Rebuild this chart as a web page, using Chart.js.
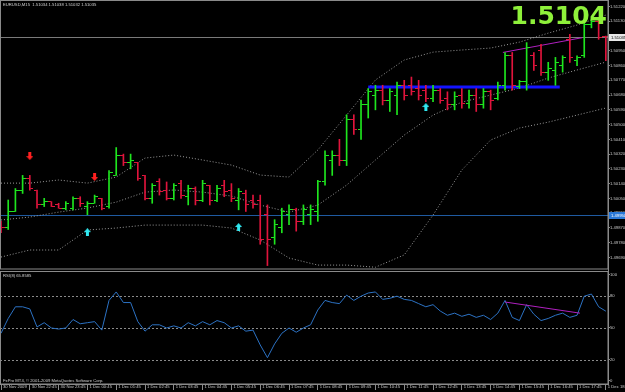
<!DOCTYPE html>
<html>
<head>
<meta charset="utf-8">
<script src="https://cdn.jsdelivr.net/npm/chart.js@4"></script>
<style>
html, body { margin: 0; padding: 0; background: #000; overflow: hidden; }
</style>
</head>
<body>
<canvas id="chart" width="625" height="392"></canvas>
<script>
// ---- data (EURUSD M15, 30 Nov 21:45 .. 1 Dec 18:45) ----
const timeLabels = ['30 Nov 2009', '30 Nov 22:45', '30 Nov 23:45', '1 Dec 00:45', '1 Dec 01:45', '1 Dec 02:45',
  '1 Dec 03:45', '1 Dec 04:45', '1 Dec 05:45', '1 Dec 06:45', '1 Dec 07:45', '1 Dec 08:45', '1 Dec 09:45',
  '1 Dec 10:45', '1 Dec 11:45', '1 Dec 12:45', '1 Dec 13:45', '1 Dec 14:45', '1 Dec 15:45', '1 Dec 16:45',
  '1 Dec 17:45', '1 Dec 18:45'];
const barsPerLabel = 4;

const opens = [1.4990, 1.4987, 1.4997, 1.5010, 1.5017, 1.5010, 1.5001, 1.5003, 1.5001, 1.4999, 1.4999, 1.5005,
  1.5000, 1.5002, 1.5005, 1.5000, 1.5019, 1.5031, 1.5027, 1.5027, 1.5019, 1.5005,
  1.5015, 1.5010, 1.5005, 1.5014, 1.5006, 1.5011, 1.5004, 1.5013, 1.5004, 1.5013, 1.5010, 1.5004, 1.5008, 1.5004,
  1.5004, 1.4995, 1.4981, 1.4987, 1.4995, 1.4998, 1.4991, 1.4995, 1.4997, 1.5015, 1.5028, 1.5031, 1.5028, 1.5053,
  1.5047, 1.5062, 1.5068, 1.5071, 1.5065, 1.5068, 1.5074, 1.5074, 1.5072, 1.5071, 1.5066, 1.5071, 1.5066, 1.5062,
  1.5068, 1.5063, 1.5068, 1.5062, 1.5070, 1.5066, 1.5074, 1.5092, 1.5073, 1.5076, 1.5092, 1.5095, 1.5082, 1.5083,
  1.5086, 1.5102, 1.5089, 1.5092, 1.5111, 1.5113, 1.5104];
const highs = [1.4991, 1.5004, 1.5011, 1.5019, 1.5019, 1.5010, 1.5005, 1.5003, 1.5002, 1.5003, 1.5006, 1.5006,
  1.5003, 1.5007, 1.5005, 1.5022, 1.5036, 1.5032, 1.5032, 1.5027, 1.5019, 1.5014,
  1.5017, 1.5015, 1.5014, 1.5016, 1.5013, 1.5012, 1.5016, 1.5013, 1.5013, 1.5016, 1.5014, 1.5011, 1.5010, 1.5007,
  1.5007, 1.5001, 1.4992, 1.4999, 1.5001, 1.4999, 1.5001, 1.5001, 1.5016, 1.5034, 1.5034, 1.5041, 1.5056, 1.5056,
  1.5065, 1.5072, 1.5074, 1.5074, 1.5072, 1.5076, 1.5077, 1.5079, 1.5077, 1.5074, 1.5074, 1.5072, 1.5070, 1.5070,
  1.5072, 1.5071, 1.5072, 1.5072, 1.5071, 1.5076, 1.5094, 1.5094, 1.5077, 1.5100, 1.5094, 1.5099, 1.5088, 1.5091,
  1.5092, 1.5105, 1.5092, 1.5113, 1.5114, 1.5114, 1.5104];
const lows = [1.4984, 1.4986, 1.4997, 1.5008, 1.5010, 1.4999, 1.5000, 1.5000, 1.4999, 1.4998, 1.4998, 1.5000,
  1.4995, 1.5002, 1.4998, 1.4999, 1.5019, 1.5025, 1.5023, 1.5016, 1.5004, 1.5002,
  1.5007, 1.5004, 1.5004, 1.5005, 1.5001, 1.5001, 1.5003, 1.5001, 1.5003, 1.5006, 1.5003, 1.4998, 1.4997, 1.4999,
  1.4977, 1.4964, 1.4977, 1.4984, 1.4989, 1.4985, 1.4989, 1.4989, 1.4991, 1.5013, 1.5019, 1.5025, 1.5025, 1.5044,
  1.5041, 1.5054, 1.5059, 1.5062, 1.5058, 1.5056, 1.5065, 1.5068, 1.5065, 1.5064, 1.5064, 1.5063, 1.5059, 1.5059,
  1.5060, 1.5060, 1.5058, 1.5060, 1.5059, 1.5065, 1.5071, 1.5071, 1.5072, 1.5071, 1.5083, 1.5080, 1.5077, 1.5074,
  1.5082, 1.5088, 1.5086, 1.5091, 1.5109, 1.5102, 1.5089];
const closes = [1.4987, 1.4997, 1.5010, 1.5017, 1.5011, 1.5001, 1.5003, 1.5000, 1.4999, 1.5002, 1.5005, 1.5002,
  1.5002, 1.5006, 1.4999, 1.5021, 1.5031, 1.5027, 1.5028, 1.5017, 1.5005, 1.5013,
  1.5009, 1.5005, 1.5013, 1.5007, 1.5011, 1.5004, 1.5014, 1.5004, 1.5011, 1.5009, 1.5005, 1.5009, 1.5001, 1.5001,
  1.4980, 1.4980, 1.4989, 1.4997, 1.4998, 1.4991, 1.4998, 1.4998, 1.5015, 1.5031, 1.5031, 1.5028, 1.5053, 1.5047,
  1.5062, 1.5070, 1.5071, 1.5065, 1.5070, 1.5074, 1.5068, 1.5070, 1.5068, 1.5066, 1.5071, 1.5065, 1.5062, 1.5067,
  1.5063, 1.5068, 1.5062, 1.5070, 1.5065, 1.5074, 1.5092, 1.5074, 1.5076, 1.5097, 1.5086, 1.5082, 1.5084, 1.5088,
  1.5091, 1.5091, 1.5091, 1.5111, 1.5113, 1.5103, 1.51035];

// Bollinger bands read every 4 bars
const upperBand = [1.50143, 1.50143, 1.50162, 1.50143, 1.50180, 1.50296, 1.50314, 1.50284, 1.50253, 1.50192, 1.50180,
  1.50345, 1.50558, 1.50772, 1.50894, 1.50942, 1.50955, 1.50967, 1.51003, 1.51058, 1.51107, 1.51168];
const middleBand = [1.49918, 1.49936, 1.49966, 1.49991, 1.50027, 1.50088, 1.50101, 1.50088, 1.50064, 1.50009, 1.49966,
  1.50009, 1.50131, 1.50284, 1.50436, 1.50558, 1.50637, 1.50680, 1.50723, 1.50784, 1.50833, 1.50881];
const lowerBand = [1.49692, 1.49735, 1.49735, 1.49857, 1.49869, 1.49887, 1.49887, 1.49887, 1.49869, 1.49796, 1.49686,
  1.49643, 1.49643, 1.49630, 1.49705, 1.49948, 1.50223, 1.50406, 1.50479, 1.50515, 1.50558, 1.50601];

const rsi = [45, 59, 70, 70, 68, 51, 55, 50, 49, 50, 58, 54, 55, 56, 48, 76, 84, 74, 74, 56, 47, 53,
  53, 50, 52, 50, 55, 52, 56, 53, 57, 55, 50, 52, 47, 48, 34, 22, 35, 45, 50, 46, 50, 53, 67, 76, 74, 73, 81, 76,
  80, 83, 84, 77, 78, 80, 77, 76, 73, 70, 72, 66, 62, 64, 61, 63, 60, 62, 58, 64, 76, 60, 57, 72, 63, 57, 59, 62,
  64, 60, 62, 80, 82, 70, 65.86];

const downArrowBars = [4, 13];
const downArrowPrices = [1.50308, 1.50180];
const upArrowBars = [12, 33, 59];
const upArrowPrices = [1.49844, 1.49875, 1.50607];

const priceTrend = [{ x: 69.7, y: 1.5094 }, { x: 80.7, y: 1.5103 }];
const resistanceSeg = [{ x: 51, y: 1.50729 }, { x: 77.6, y: 1.50729 }];
const rsiTrend = [{ x: 70, y: 74.5 }, { x: 80.4, y: 64 }];

const currentPrice = 1.51035;
const hLinePrice = 1.4995;
const bigLabel = '1.5104';

const priceTicks = [1.51220, 1.51130, 1.51040, 1.50950, 1.50860, 1.50770, 1.50680, 1.50590, 1.50500, 1.50410,
  1.50320, 1.50230, 1.50140, 1.50050, 1.49960, 1.49870, 1.49780, 1.49690];
const rsiTicks = [0, 20, 50, 80, 100];
const rsiLevels = [20, 50, 80];

// ---- helpers ----
const upColor = '#1ee61e', downColor = '#e0143c';
const isUp = i => closes[i] >= opens[i];

function tickImage(side, color) {
  const c = document.createElement('canvas');
  c.width = 7; c.height = 1;
  const g = c.getContext('2d');
  g.fillStyle = color;
  g.fillRect(side === 'open' ? 0 : 4, 0, 3, 1);
  return c;
}
function arrowImage(color, down) {
  const c = document.createElement('canvas');
  c.width = 7; c.height = 8;
  const g = c.getContext('2d');
  g.fillStyle = color;
  g.beginPath();
  if (down) {
    g.rect(2, 0, 3, 4);
    g.moveTo(0, 4); g.lineTo(7, 4); g.lineTo(3.5, 8);
  } else {
    g.rect(2, 4, 3, 4);
    g.moveTo(0, 4); g.lineTo(7, 4); g.lineTo(3.5, 0);
  }
  g.fill();
  return c;
}
const openImg = { up: tickImage('open', upColor), down: tickImage('open', downColor) };
const closeImg = { up: tickImage('close', upColor), down: tickImage('close', downColor) };

const idx = opens.map((_, i) => i);
const bandPts = arr => arr.map((v, k) => ({ x: k * barsPerLabel, y: v }));

const tinyFont = '4.2px "Liberation Sans"';
const axisFont = { size: 4.2, family: 'Liberation Sans' };
const yAxisFont = { size: 4.2, family: 'Liberation Sans', lineHeight: 0.1 };

const decor = {
  id: 'decor',
  beforeDraw(chart) {
    const ctx = chart.ctx;
    ctx.save();
    ctx.fillStyle = '#000';
    ctx.fillRect(0, 0, chart.width, chart.height);
    ctx.restore();
  },
  beforeDatasetsDraw(chart) {
    const { ctx, chartArea: a, scales } = chart;
    const y = scales.y, r = scales.yRsi;
    ctx.save();
    ctx.lineWidth = 1;
    // rsi levels
    ctx.strokeStyle = '#8a8a8a';
    ctx.setLineDash([2, 2]);
    rsiLevels.forEach(l => {
      const py = Math.round(r.getPixelForValue(l)) + 0.5;
      ctx.beginPath(); ctx.moveTo(a.left, py); ctx.lineTo(a.right, py); ctx.stroke();
    });
    ctx.setLineDash([]);
    // current price line
    let py = Math.round(y.getPixelForValue(currentPrice)) + 0.5;
    ctx.strokeStyle = '#7a7a7a';
    ctx.beginPath(); ctx.moveTo(a.left, py); ctx.lineTo(a.right, py); ctx.stroke();
    // horizontal blue line
    py = Math.round(y.getPixelForValue(hLinePrice)) + 0.5;
    ctx.strokeStyle = '#1f5aa0';
    ctx.beginPath(); ctx.moveTo(a.left, py); ctx.lineTo(a.right, py); ctx.stroke();
    ctx.restore();
  },
  afterDraw(chart) {
    const { ctx, chartArea: a, scales } = chart;
    const y = scales.y, r = scales.yRsi;
    ctx.save();
    // panel frames
    ctx.strokeStyle = '#8a8a8a';
    ctx.lineWidth = 1;
    ctx.strokeRect(0.5, 0.5, a.right - 0.5, y.bottom - 1.5);
    ctx.strokeRect(0.5, r.top + 1.5, a.right - 0.5, r.bottom - r.top - 1.5);
    // price boxes on axis
    ctx.font = tinyFont;
    ctx.textBaseline = 'middle';
    let py = Math.round(y.getPixelForValue(currentPrice));
    ctx.fillStyle = '#e8e8e8';
    ctx.fillRect(a.right + 1, py - 3, 17, 7);
    ctx.fillStyle = '#000';
    ctx.fillText(currentPrice.toFixed(5), a.right + 3, py + 0.5);
    py = Math.round(y.getPixelForValue(hLinePrice));
    ctx.fillStyle = '#2a78d8';
    ctx.fillRect(a.right + 1, py - 3, 17, 7);
    ctx.fillStyle = '#fff';
    ctx.fillText(hLinePrice.toFixed(5), a.right + 3, py + 0.5);
    // texts
    ctx.fillStyle = '#d0d0d0';
    ctx.textBaseline = 'top';
    ctx.fillText('EURUSD,M15  1.51034 1.51038 1.51032 1.51035', 3, 3);
    ctx.fillText('RSI(8) 65.8585', 3, r.top + 4);
    ctx.textBaseline = 'alphabetic';
    ctx.fillText('FxPro MT4, \u00a9 2001-2009 MetaQuotes Software Corp.', 3, r.bottom - 2);
    ctx.font = 'bold 25px "DejaVu Sans"';
    ctx.fillStyle = '#8ef03a';
    ctx.textAlign = 'right';
    ctx.textBaseline = 'top';
    ctx.fillText(bigLabel, a.right - 1, 5);
    ctx.restore();
  }
};

new Chart(document.getElementById('chart'), {
  data: {
    datasets: [
      {
        type: 'scatter', data: downArrowBars.map((b, k) => ({ x: b, y: downArrowPrices[k] })),
        pointStyle: arrowImage('#ff2020', true), pointRadius: 1, yAxisID: 'y'
      },
      {
        type: 'scatter', data: upArrowBars.map((b, k) => ({ x: b, y: upArrowPrices[k] })),
        pointStyle: arrowImage('#30e8f0', false), pointRadius: 1, yAxisID: 'y'
      },
      {
        type: 'scatter', data: idx.map(i => ({ x: i, y: opens[i] })), pointRadius: 1, yAxisID: 'y',
        pointStyle: c => isUp(c.dataIndex) ? openImg.up : openImg.down
      },
      {
        type: 'scatter', data: idx.map(i => ({ x: i, y: closes[i] })), pointRadius: 1, yAxisID: 'y',
        pointStyle: c => isUp(c.dataIndex) ? closeImg.up : closeImg.down
      },
      {
        type: 'bar', data: idx.map(i => ({ x: i, y: [lows[i], highs[i]] })), yAxisID: 'y',
        barThickness: 1, borderWidth: 0,
        backgroundColor: c => isUp(c.dataIndex) ? upColor : downColor
      },
      {
        type: 'line', data: priceTrend, borderColor: '#b020c0', borderWidth: 1, pointRadius: 0, yAxisID: 'y'
      },
      {
        type: 'line', data: resistanceSeg, borderColor: '#1414ff', borderWidth: 3, pointRadius: 0, yAxisID: 'y'
      },
      {
        type: 'line', data: rsiTrend, borderColor: '#b020c0', borderWidth: 1, pointRadius: 0, yAxisID: 'yRsi'
      },
      {
        type: 'line', data: idx.map(i => ({ x: i, y: rsi[i] })), borderColor: '#2c72c4', borderWidth: 1,
        pointRadius: 0, tension: 0, yAxisID: 'yRsi'
      },
      ...[upperBand, middleBand, lowerBand].map(b => ({
        type: 'line', data: bandPts(b), borderColor: '#9a9a9a', borderWidth: 1, borderDash: [1, 2],
        pointRadius: 0, tension: 0, yAxisID: 'y'
      }))
    ]
  },
  options: {
    responsive: false,
    animation: false,
    events: [],
    layout: { padding: 0, autoPadding: false },
    plugins: { legend: { display: false }, tooltip: { enabled: false } },
    scales: {
      x: {
        type: 'linear', position: 'bottom', min: -0.14, max: 84.3, offset: false,
        afterBuildTicks: s => { s.ticks = timeLabels.map((_, k) => ({ value: k * barsPerLabel })); },
        afterFit: s => { s.height = 8; s.paddingLeft = 0; s.paddingRight = 0; },
        ticks: {
          autoSkip: false, maxRotation: 0, align: 'start', padding: -6, labelOffset: 2,
          color: '#c8c8c8', font: axisFont,
          callback: v => timeLabels[Math.round(v / barsPerLabel)]
        },
        grid: { drawOnChartArea: false, offset: false, tickLength: 6, color: '#8a8a8a' },
        border: { color: '#8a8a8a' }
      },
      y: {
        type: 'linear', position: 'right', stack: 'panes', stackWeight: 270,
        min: 1.49613, max: 1.51260,
        afterBuildTicks: s => { s.ticks = priceTicks.map(v => ({ value: v })); },
        afterFit: s => { s.width = 17; s.paddingTop = 0; s.paddingBottom = 0; },
        ticks: {
          autoSkip: false, padding: 0, color: '#c8c8c8', font: yAxisFont,
          callback: v => v.toFixed(5)
        },
        grid: { drawOnChartArea: false, tickLength: 2, color: '#8a8a8a' },
        border: { color: '#8a8a8a' }
      },
      yRsi: {
        type: 'linear', position: 'right', stack: 'panes', stackWeight: 114,
        min: -2.83, max: 104.7,
        afterBuildTicks: s => { s.ticks = rsiTicks.map(v => ({ value: v })); },
        afterFit: s => { s.width = 17; s.paddingTop = 0; s.paddingBottom = 0; },
        ticks: {
          autoSkip: false, padding: 0, color: '#c8c8c8', font: yAxisFont,
          callback: v => String(v)
        },
        grid: { drawOnChartArea: false, tickLength: 2, color: '#8a8a8a' },
        border: { color: '#8a8a8a' }
      }
    }
  },
  plugins: [decor]
});
</script>
</body>
</html>
